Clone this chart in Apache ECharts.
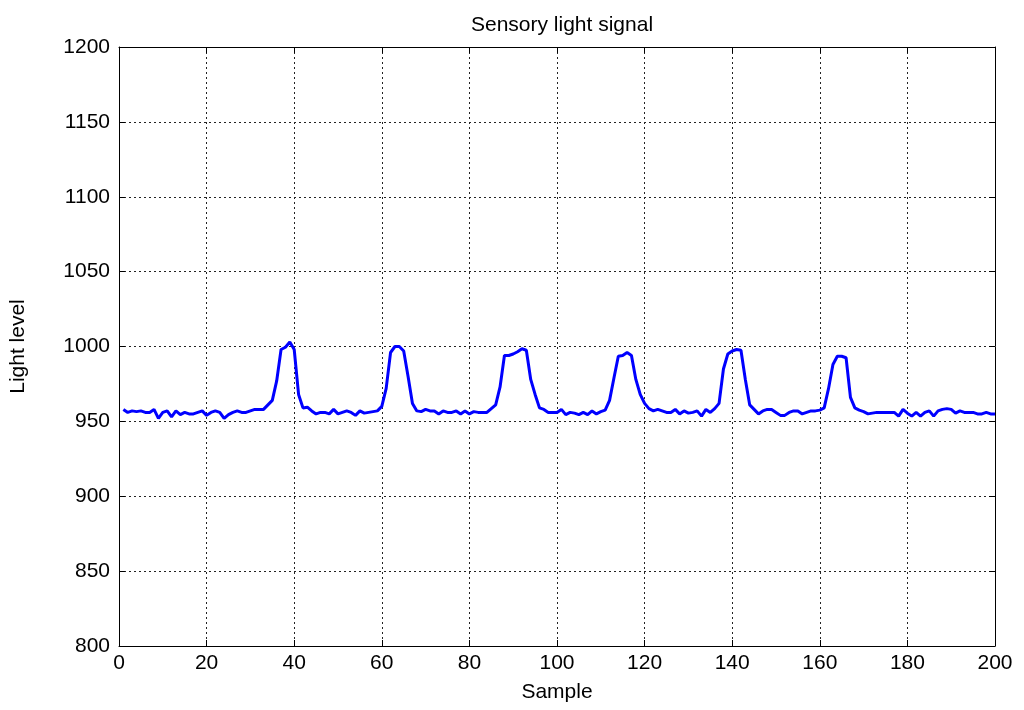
<!DOCTYPE html>
<html>
<head>
<meta charset="utf-8">
<title>Sensory light signal</title>
<script src="https://cdn.jsdelivr.net/npm/echarts@6/dist/echarts.min.js"></script>
<style>
  html, body { margin: 0; padding: 0; background: #fff; }
  #chart { width: 1024px; height: 710px; }
</style>
</head>
<body>
<div id="chart"></div>
<script>
// light level readings, one per sample (samples 1..200)
const lightLevel = [
  958, 956, 957, 956.5, 957, 956, 956, 958, 952, 956,
  957, 953, 957, 954.5, 956, 955, 955, 956, 957, 954,
  956, 957, 956, 952, 954.5, 956, 957, 956, 956, 957,
  958, 958, 958, 961, 964, 977, 998, 999.5, 1003, 998,
  968, 959, 959.5, 957, 955, 956, 956, 955, 958, 955,
  956, 957, 956, 954, 957, 955.5, 956, 956.5, 957, 960,
  972, 996, 1000, 1000, 997, 980, 962, 957, 956.5, 958,
  957, 957, 955, 957, 956, 956, 957, 955, 957, 955,
  956.5, 956, 956, 956, 958.5, 961, 973, 994, 994, 995,
  996.5, 998.5, 997.5, 978, 968, 959, 958, 956, 956, 956,
  958, 954.5, 956, 955.5, 954.5, 956, 954.5, 957, 955, 956.5,
  957.5, 964, 979, 993.5, 994, 996, 994, 978, 968, 962,
  958.5, 957, 958, 957, 956, 956, 958, 955, 957, 955.5,
  956, 957, 953.5, 958, 956, 958.5, 962, 985, 995, 997,
  998, 997.5, 978, 961, 958, 955, 957, 958, 958, 956,
  954, 954, 956, 957, 957, 955, 956, 957, 957, 957.5,
  959, 972, 988, 993.5, 993.5, 992.5, 966, 959, 957.5, 956.5,
  955, 955.5, 956, 956, 956, 956, 956, 953.5, 958, 955.5,
  953.5, 956, 953.5, 956, 957, 953.5, 957, 958, 958.5, 958,
  955.5, 957, 956, 956, 956, 955, 955, 956, 955, 955
];
const samples = lightLevel.map((v, i) => i + 1);

const xTicks = { min: 0, max: 200, interval: 20 };
const yTicks = { min: 800, max: 1200, interval: 50 };

const font = 'Liberation Sans, Arial, sans-serif';
const fontSize = 21;

var chart = echarts.init(document.getElementById('chart'));

// 框线 + 内向刻度，模仿 MATLAB 风格
var axisBase = {
  type: 'value',
  axisLine: { show: true, onZero: false, lineStyle: { color: '#000', width: 1 } },
  axisTick: { show: true, inside: true, length: 6, lineStyle: { color: '#000' } },
  splitLine: { show: false }
};
var gridLine = { show: true, lineStyle: { color: '#222', type: [2, 3], width: 1 } };

var option = {
  backgroundColor: '#fff',
  animation: false,
  title: {
    text: 'Sensory light signal',
    left: 557,
    top: 10,
    textAlign: 'center',
    textStyle: { fontFamily: font, fontSize: fontSize, fontWeight: 'normal', color: '#000' }
  },
  grid: { left: 119, right: 29, top: 47, bottom: 64 },
  xAxis: [
    Object.assign({}, axisBase, {
      min: xTicks.min, max: xTicks.max, interval: xTicks.interval,
      position: 'bottom',
      name: 'Sample',
      nameLocation: 'middle',
      nameGap: 36,
      nameTextStyle: { fontFamily: font, fontSize: fontSize, color: '#000' },
      axisLabel: { fontFamily: font, fontSize: fontSize, color: '#000', margin: 7 },
      splitLine: gridLine
    }),
    Object.assign({}, axisBase, {
      min: xTicks.min, max: xTicks.max, interval: xTicks.interval,
      position: 'top',
      axisLabel: { show: false }
    })
  ],
  yAxis: [
    Object.assign({}, axisBase, {
      min: yTicks.min, max: yTicks.max, interval: yTicks.interval,
      position: 'left',
      name: 'Light level',
      nameLocation: 'middle',
      nameGap: 90,
      nameRotate: 90,
      nameTextStyle: { fontFamily: font, fontSize: fontSize, color: '#000' },
      axisLabel: {
        fontFamily: font, fontSize: fontSize, color: '#000', margin: 9,
        formatter: v => String(v)
      },
      splitLine: gridLine
    }),
    Object.assign({}, axisBase, {
      min: yTicks.min, max: yTicks.max, interval: yTicks.interval,
      position: 'right',
      axisLabel: { show: false }
    })
  ],
  series: [
    {
      type: 'line',
      data: samples.map((s, i) => [s, lightLevel[i]]),
      showSymbol: false,
      symbol: 'none',
      lineStyle: { color: '#0000ff', width: 3 },
      itemStyle: { color: '#0000ff' }
    }
  ]
};

chart.setOption(option);
</script>
</body>
</html>
